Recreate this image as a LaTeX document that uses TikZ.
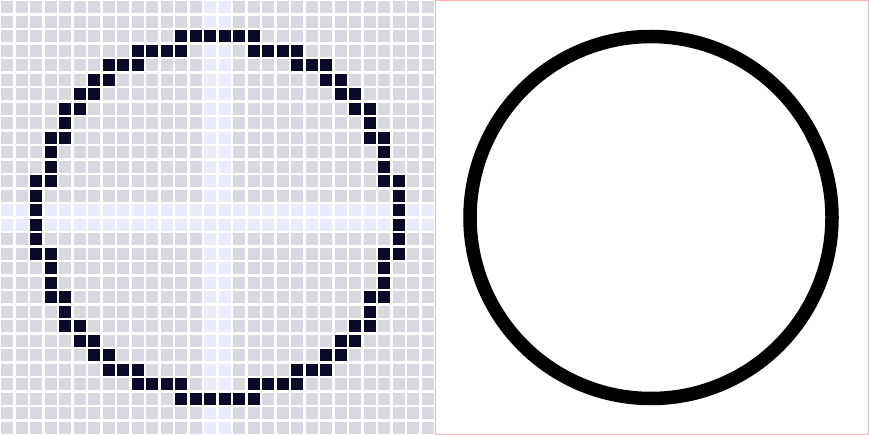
\documentclass[tikz,border=0pt]{standalone}
\definecolor{cellgray}{HTML}{D8D8E0}
\definecolor{celllav}{HTML}{EBEBFF}
\definecolor{celldark}{HTML}{0A0A28}
\definecolor{framepink}{HTML}{FFB0B0}
\tikzset{
  pixcell/.style={fill=cellgray},
  pixlav/.style={fill=celllav},
  pixdark/.style={fill=celldark},
  panelframe/.style={draw=framepink,line width=1.2pt},
  ringline/.style={draw=black,line width=13.5pt}
}
\begin{document}
\begin{tikzpicture}[x=1pt,y=-1pt]
\useasboundingbox (0,0) rectangle (869,435);
\fill[white] (0,0) rectangle (869,435);
% background grid
\foreach \r in {0,...,29}{
  \foreach \c in {0,...,29}{
    \pgfmathtruncatemacro{\islav}{(\r==14 || \r==15 || \c==14 || \c==15) ? 1 : 0}
    \ifnum\islav=1
      \fill[pixlav] ({\c*14.5+1.25},{\r*14.5+1.25}) rectangle ++(12,12);
    \else
      \fill[pixcell] ({\c*14.5+1.25},{\r*14.5+1.25}) rectangle ++(12,12);
    \fi
  }
}
% rasterised circle (one quadrant, mirrored)
\foreach \r/\c in {2/12,2/13,2/14,3/9,3/10,3/11,3/12,4/7,4/8,4/9,5/6,5/7,6/5,6/6,7/4,7/5,8/4,9/3,9/4,10/3,11/3,12/2,12/3,13/2,14/2}{
  \fill[pixdark] ({\c*14.5+1.25},{\r*14.5+1.25}) rectangle ++(12,12);
  \fill[pixdark] ({(29-\c)*14.5+1.25},{\r*14.5+1.25}) rectangle ++(12,12);
  \fill[pixdark] ({\c*14.5+1.25},{(29-\r)*14.5+1.25}) rectangle ++(12,12);
  \fill[pixdark] ({(29-\c)*14.5+1.25},{(29-\r)*14.5+1.25}) rectangle ++(12,12);
}
% right panel
\draw[panelframe] (435.6,0.6) rectangle (868.4,434.4);
\coordinate (ringc) at (651,217.5);
\draw[ringline] (ringc) circle[radius=181];
\end{tikzpicture}
\end{document}
